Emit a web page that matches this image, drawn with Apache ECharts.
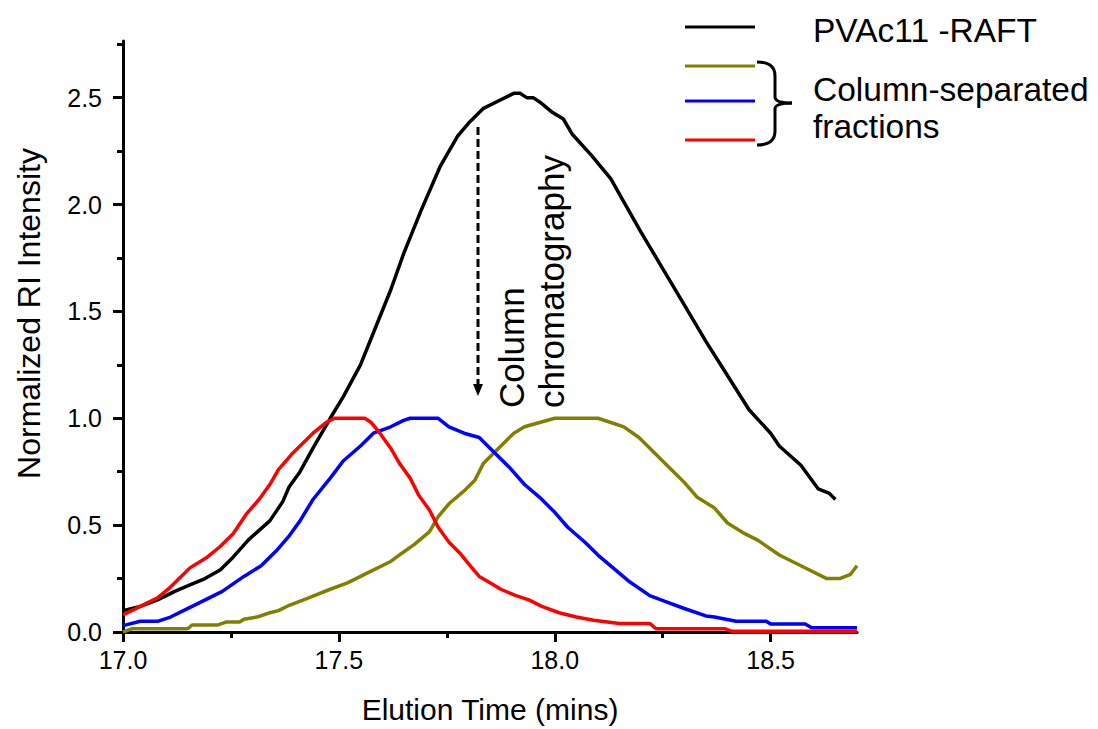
<!DOCTYPE html>
<html>
<head>
<meta charset="utf-8">
<title>Elution</title>
<script src="https://cdn.jsdelivr.net/npm/echarts@6/dist/echarts.min.js"></script>
<style>
  html, body { margin: 0; padding: 0; background: #fff; }
  #chart { width: 1098px; height: 729px; }
</style>
</head>
<body>
<div id="chart"></div>
<script>
// tick values
var xMajor = [17.0, 17.5, 18.0, 18.5];
var xMinor = [17.25, 17.75, 18.25];
var yMajor = [0, 0.5, 1.0, 1.5, 2.0, 2.5];
var yMinor = [0.25, 0.75, 1.25, 1.75, 2.25, 2.75];

// [elution time (min), normalized RI]
var raftData = [
    [17.00, 0.10], [17.04, 0.12], [17.08, 0.15], [17.12, 0.19], [17.155, 0.22], [17.19, 0.25],
    [17.225, 0.29], [17.255, 0.35], [17.29, 0.43], [17.34, 0.52], [17.37, 0.61], [17.385, 0.68],
    [17.41, 0.75], [17.44, 0.86], [17.48, 1.00], [17.51, 1.10], [17.55, 1.25], [17.58, 1.40],
    [17.62, 1.60], [17.65, 1.77], [17.69, 1.97], [17.735, 2.18], [17.775, 2.32], [17.80, 2.38],
    [17.835, 2.45], [17.875, 2.49], [17.905, 2.52], [17.92, 2.52], [17.935, 2.50], [17.95, 2.50],
    [17.965, 2.48], [17.995, 2.43], [18.02, 2.40], [18.04, 2.33], [18.085, 2.23], [18.13, 2.12],
    [18.155, 2.03], [18.20, 1.87], [18.25, 1.70], [18.30, 1.53], [18.35, 1.36], [18.40, 1.20],
    [18.45, 1.04], [18.50, 0.93], [18.52, 0.87], [18.57, 0.78], [18.61, 0.67], [18.635, 0.65],
    [18.65, 0.62]
];
var fracOlive = [
    [17.00, 0.00], [17.02, 0.015], [17.15, 0.015], [17.16, 0.033], [17.22, 0.033], [17.24, 0.047],
    [17.27, 0.047], [17.28, 0.06], [17.31, 0.07], [17.34, 0.09], [17.36, 0.10], [17.385, 0.125],
    [17.43, 0.16], [17.48, 0.20], [17.52, 0.23], [17.57, 0.28], [17.62, 0.33], [17.64, 0.36],
    [17.675, 0.41], [17.71, 0.47], [17.73, 0.54], [17.755, 0.60], [17.79, 0.66], [17.815, 0.71],
    [17.835, 0.79], [17.86, 0.84], [17.88, 0.88], [17.905, 0.93], [17.93, 0.96], [17.965, 0.98],
    [18.00, 1.00], [18.10, 1.00], [18.13, 0.98], [18.16, 0.96], [18.195, 0.91], [18.23, 0.84],
    [18.265, 0.77], [18.30, 0.70], [18.33, 0.63], [18.37, 0.58], [18.40, 0.51], [18.44, 0.46],
    [18.47, 0.43], [18.52, 0.36], [18.57, 0.31], [18.63, 0.25], [18.66, 0.25], [18.685, 0.27],
    [18.70, 0.31]
];
var fracBlue = [
    [17.00, 0.03], [17.04, 0.05], [17.08, 0.05], [17.11, 0.07], [17.14, 0.10], [17.18, 0.14],
    [17.23, 0.19], [17.28, 0.26], [17.32, 0.31], [17.355, 0.38], [17.385, 0.45], [17.41, 0.52],
    [17.44, 0.62], [17.48, 0.72], [17.51, 0.80], [17.55, 0.87], [17.58, 0.93], [17.62, 0.96],
    [17.65, 0.99], [17.665, 1.00], [17.73, 1.00], [17.755, 0.96], [17.79, 0.93], [17.825, 0.91],
    [17.86, 0.84], [17.895, 0.77], [17.93, 0.69], [17.965, 0.63], [18.00, 0.56], [18.03, 0.49],
    [18.07, 0.42], [18.10, 0.36], [18.135, 0.30], [18.17, 0.24], [18.22, 0.17], [18.26, 0.14],
    [18.30, 0.11], [18.35, 0.075], [18.37, 0.07], [18.42, 0.05], [18.49, 0.05], [18.50, 0.037],
    [18.58, 0.037], [18.595, 0.02], [18.70, 0.02]
];
var fracRed = [
    [17.00, 0.08], [17.04, 0.12], [17.08, 0.16], [17.11, 0.21], [17.155, 0.30], [17.195, 0.35],
    [17.225, 0.40], [17.255, 0.46], [17.285, 0.55], [17.315, 0.62], [17.34, 0.69], [17.36, 0.76],
    [17.39, 0.83], [17.41, 0.87], [17.44, 0.93], [17.47, 0.98], [17.49, 1.00], [17.56, 1.00],
    [17.575, 0.98], [17.595, 0.93], [17.62, 0.86], [17.64, 0.79], [17.665, 0.72], [17.685, 0.64],
    [17.71, 0.57], [17.73, 0.49], [17.755, 0.42], [17.78, 0.37], [17.80, 0.32], [17.825, 0.26],
    [17.85, 0.23], [17.875, 0.20], [17.91, 0.17], [17.94, 0.15], [17.97, 0.12], [18.01, 0.09],
    [18.05, 0.07], [18.09, 0.055], [18.15, 0.04], [18.22, 0.04], [18.235, 0.015], [18.395, 0.015],
    [18.41, 0.003], [18.70, 0.003]
];

var FONT = '"Liberation Sans", Arial, sans-serif';
var chart = echarts.init(document.getElementById('chart'), null, { renderer: 'svg' });

function lineSeries(name, data, color) {
    return {
        name: name,
        type: 'line',
        data: data,
        showSymbol: false,
        symbol: 'none',
        lineStyle: { color: color, width: 3.5 },
        itemStyle: { color: color },
        z: 3
    };
}

var axisLine = { show: true, lineStyle: { color: '#000', width: 3 } };
var blackStroke = { stroke: '#000', lineWidth: 3, fill: 'none' };

var option = {
    animation: false,
    backgroundColor: '#fff',
    grid: { left: 123, right: 241, top: 41, bottom: 94 },
    xAxis: [{
        type: 'value', min: 17.0, max: 18.7,
        name: 'Elution Time (mins)', nameLocation: 'middle', nameGap: 62,
        nameTextStyle: { fontFamily: FONT, fontSize: 30, color: '#000' },
        axisLine: axisLine,
        axisTick: { show: true, length: 10, customValues: xMajor, lineStyle: { color: '#000', width: 3 } },
        axisLabel: {
            customValues: xMajor, margin: 15, fontFamily: FONT, fontSize: 25, color: '#000',
            formatter: function (v) { return v.toFixed(1); }
        },
        splitLine: { show: false }
    }, {
        // minor ticks
        type: 'value', min: 17.0, max: 18.7, position: 'bottom', offset: 0,
        axisLine: { show: false },
        axisTick: { show: true, length: 6, customValues: xMinor, lineStyle: { color: '#000', width: 3 } },
        axisLabel: { show: false },
        splitLine: { show: false }
    }],
    yAxis: [{
        type: 'value', min: 0, max: 2.765,
        name: 'Normalized RI Intensity', nameLocation: 'middle', nameGap: 78,
        nameTextStyle: { fontFamily: FONT, fontSize: 32, color: '#000', padding: [0, 0, 0, 46] },
        axisLine: axisLine,
        axisTick: { show: true, length: 10, customValues: yMajor, lineStyle: { color: '#000', width: 3 } },
        axisLabel: {
            customValues: yMajor, margin: 21, fontFamily: FONT, fontSize: 25, color: '#000',
            formatter: function (v) { return v.toFixed(1); }
        },
        splitLine: { show: false }
    }, {
        type: 'value', min: 0, max: 2.765, position: 'left', offset: 0,
        axisLine: { show: false },
        axisTick: { show: true, length: 6, customValues: yMinor, lineStyle: { color: '#000', width: 3 } },
        axisLabel: { show: false },
        splitLine: { show: false }
    }],
    series: [
        lineSeries('PVAc11 -RAFT', raftData, '#000000'),
        lineSeries('Fraction 3', fracOlive, '#808000'),
        lineSeries('Fraction 2', fracBlue, '#0000ff'),
        lineSeries('Fraction 1', fracRed, '#ff0000')
    ],
    graphic: [
        // legend
        { type: 'line', shape: { x1: 685, y1: 27, x2: 755, y2: 27 }, style: { stroke: '#000', lineWidth: 3 } },
        { type: 'line', shape: { x1: 685, y1: 66, x2: 755, y2: 66 }, style: { stroke: '#808000', lineWidth: 3 } },
        { type: 'line', shape: { x1: 685, y1: 101, x2: 755, y2: 101 }, style: { stroke: '#0000ff', lineWidth: 3 } },
        { type: 'line', shape: { x1: 685, y1: 140, x2: 755, y2: 140 }, style: { stroke: '#ff0000', lineWidth: 3 } },
        { type: 'text', x: 813, y: 30, style: { text: 'PVAc11 -RAFT', font: '33.5px ' + FONT, fill: '#000', textVerticalAlign: 'middle' } },
        { type: 'text', x: 813, y: 89, style: { text: 'Column-separated', font: '33.5px ' + FONT, fill: '#000', textVerticalAlign: 'middle' } },
        { type: 'text', x: 813, y: 126, style: { text: 'fractions', font: '33.5px ' + FONT, fill: '#000', textVerticalAlign: 'middle' } },
        // brace
        { type: 'bezierCurve', shape: { x1: 757, y1: 62, cpx1: 775, cpy1: 62, x2: 775, y2: 76 }, style: blackStroke },
        { type: 'line', shape: { x1: 775, y1: 76, x2: 775, y2: 97 }, style: blackStroke },
        { type: 'bezierCurve', shape: { x1: 775, y1: 97, cpx1: 775, cpy1: 103, x2: 792, y2: 103 }, style: blackStroke },
        { type: 'bezierCurve', shape: { x1: 792, y1: 103, cpx1: 775, cpy1: 103, x2: 775, y2: 109 }, style: blackStroke },
        { type: 'line', shape: { x1: 775, y1: 109, x2: 775, y2: 131 }, style: blackStroke },
        { type: 'bezierCurve', shape: { x1: 775, y1: 131, cpx1: 775, cpy1: 145, x2: 757, y2: 145 }, style: blackStroke },
        // dashed arrow
        { type: 'line', shape: { x1: 478, y1: 127, x2: 478, y2: 386 }, style: { stroke: '#000', lineWidth: 3, lineDash: [8, 4] } },
        { type: 'polygon', shape: { points: [[473, 384], [483, 384], [478, 396]] }, style: { fill: '#000' } },
        // rotated annotation
        { type: 'text', x: 511, y: 408, rotation: Math.PI / 2, style: { text: 'Column', font: '35px ' + FONT, fill: '#000', textVerticalAlign: 'middle' } },
        { type: 'text', x: 551, y: 408, rotation: Math.PI / 2, style: { text: 'chromatography', font: '35px ' + FONT, fill: '#000', textVerticalAlign: 'middle' } }
    ]
};

chart.setOption(option);
</script>
</body>
</html>
